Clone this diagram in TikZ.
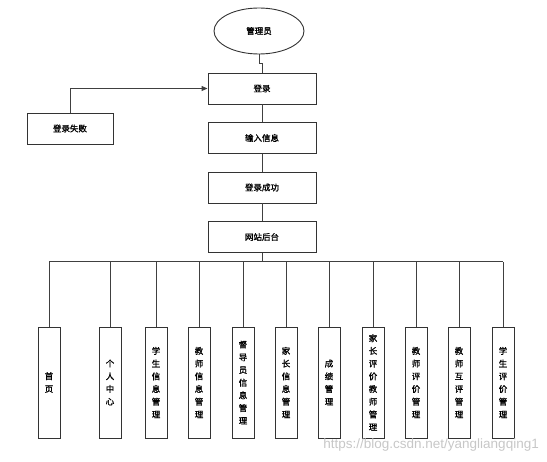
\documentclass[tikz,border=0pt]{standalone}
\usepackage{fontspec}
\setmainfont{Noto Sans CJK SC}[FakeBold=1.2]
\newfontfamily\wmfont{Liberation Sans}
\usetikzlibrary{shapes.geometric,arrows.meta}
\tikzset{
  box/.style={draw=black!80, line width=0.9pt, rectangle, minimum width=108pt, minimum height=31pt, inner sep=0pt, font=\fontsize{8.5pt}{10pt}\selectfont},
  vbox/.style={draw=black!80, line width=0.9pt, rectangle, minimum width=22pt, minimum height=111pt, inner sep=0pt, text width=12pt, align=center, font=\fontsize{8.5pt}{12.7pt}\selectfont},
  conn/.style={draw=black!75, line width=0.9pt},
}
\begin{document}
\begin{tikzpicture}[x=1pt,y=-1pt]
\useasboundingbox (0,0) rectangle (547,462);
\node[draw=black!80, line width=0.9pt, ellipse, minimum width=90pt, minimum height=46pt, inner sep=0pt, font=\fontsize{8.5pt}{10pt}\selectfont] (adm) at (259,31) {管理员};
\node[box] (login) at (262,88.5) {登录};
\node[box] (input) at (262,138) {输入信息};
\node[box] (ok) at (262,187.5) {登录成功};
\node[box] (back) at (262,237) {网站后台};
\node[box, minimum width=86pt] (fail) at (70,128.5) {登录失败};

\draw[conn] (adm.south) -- ++(0,9) -| (login.north);
\draw[conn, -{Triangle[length=6pt,width=5pt]}] (fail.north) |- (login.west);
\draw[conn] (login.south) -- (input.north);
\draw[conn] (input.south) -- (ok.north);
\draw[conn] (ok.south) -- (back.north);

\coordinate (bus) at (262,262);
\draw[conn, line width=1pt] (back.south) -- (bus);

\node[vbox] (b1) at (49,382.5) {首\\页};
\node[vbox] (b2) at (110,382.5) {个\\人\\中\\心};
\node[vbox] (b3) at (156,382.5) {学\\生\\信\\息\\管\\理};
\node[vbox] (b4) at (199,382.5) {教\\师\\信\\息\\管\\理};
\node[vbox] (b5) at (243,382.5) {督\\导\\员\\信\\息\\管\\理};
\node[vbox] (b6) at (286,382.5) {家\\长\\信\\息\\管\\理};
\node[vbox] (b7) at (329,382.5) {成\\绩\\管\\理};
\node[vbox] (b8) at (373,382.5) {家\\长\\评\\价\\教\\师\\管\\理};
\node[vbox] (b9) at (416,382.5) {教\\师\\评\\价\\管\\理};
\node[vbox] (b10) at (459,382.5) {教\\师\\互\\评\\管\\理};
\node[vbox] (b11) at (503,382.5) {学\\生\\评\\价\\管\\理};

\draw[conn, line width=1pt] (b1.north |- bus) -- (b11.north |- bus);
\foreach \b in {b1,b2,b3,b4,b5,b6,b7,b8,b9,b10,b11}
  \draw[conn] (\b.north) -- (\b.north |- bus);

\node[anchor=east, text=black!22, font=\wmfont\fontsize{13.5pt}{15pt}\selectfont, inner sep=0pt] (wm) at (539,445) {https://blog.csdn.net/yangliangqing1};
\end{tikzpicture}
\end{document}
